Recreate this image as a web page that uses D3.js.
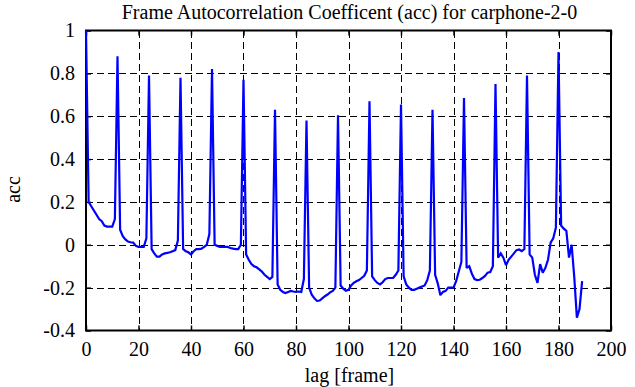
<!DOCTYPE html>
<html>
<head>
<meta charset="utf-8">
<script src="https://cdn.jsdelivr.net/npm/d3@7/dist/d3.min.js"></script>
<style>
  body { margin: 0; background: #fff; }
  text { font-family: "Liberation Serif", "Times New Roman", serif; fill: #000; }
</style>
</head>
<body>
<svg id="chart" width="635" height="387"></svg>
<script>
// ---- data ----
const title = "Frame Autocorrelation Coefficent (acc) for carphone-2-0";
const xLabel = "lag [frame]";
const yLabel = "acc";
const xTicks = [0, 20, 40, 60, 80, 100, 120, 140, 160, 180, 200];
const yTicks = [-0.4, -0.2, 0, 0.2, 0.4, 0.6, 0.8, 1];
const xTickLabels = ["0", "20", "40", "60", "80", "100", "120", "140", "160", "180", "200"];
const yTickLabels = ["-0.4", "-0.2", "0", "0.2", "0.4", "0.6", "0.8", "1"];

// acc value for lag 0, 1, 2, ... (index = lag in frames)
const acc = [
  1.0, 0.20, 0.18, 0.16, 0.14, 0.12, 0.11, 0.09, 0.085, 0.085,
  0.085, 0.12, 0.88, 0.07, 0.04, 0.025, 0.015, 0.012, 0.01, -0.005,
  -0.01, -0.01, -0.01, 0.03, 0.79, -0.02, -0.04, -0.055, -0.055, -0.045,
  -0.04, -0.038, -0.035, -0.03, -0.025, 0.02, 0.78, -0.02, -0.03, -0.035,
  -0.045, -0.03, -0.02, -0.02, -0.018, -0.01, 0.0, 0.05, 0.82, 0.0,
  -0.005, -0.01, -0.01, -0.01, -0.01, -0.015, -0.018, -0.02, -0.02, 0.0,
  0.77, -0.045, -0.07, -0.09, -0.1, -0.105, -0.115, -0.125, -0.14, -0.15,
  -0.16, -0.15, 0.63, -0.185, -0.21, -0.22, -0.225, -0.22, -0.215, -0.218,
  -0.22, -0.218, -0.22, -0.16, 0.58, -0.2, -0.233, -0.25, -0.262, -0.26,
  -0.25, -0.24, -0.232, -0.222, -0.215, -0.2, 0.605, -0.19, -0.205, -0.215,
  -0.21, -0.19, -0.178, -0.17, -0.165, -0.155, -0.145, -0.12, 0.67, -0.147,
  -0.165, -0.178, -0.185, -0.175, -0.16, -0.155, -0.155, -0.155, -0.14, -0.12,
  0.655, -0.147, -0.185, -0.2, -0.21, -0.21, -0.205, -0.2, -0.195, -0.19,
  -0.165, -0.12, 0.63, -0.14, -0.18, -0.235, -0.22, -0.215, -0.2, -0.2,
  -0.2, -0.17, -0.125, -0.08, 0.685, -0.108, -0.1, -0.135, -0.16, -0.165,
  -0.163, -0.155, -0.145, -0.13, -0.127, -0.1, 0.75, -0.06, -0.04, -0.06,
  -0.095, -0.07, -0.055, -0.04, -0.025, -0.022, -0.03, -0.02, 0.79, -0.045,
  -0.06, -0.14, -0.178, -0.09, -0.13, -0.108, -0.07, 0.01, 0.03, 0.08,
  0.90, 0.09, 0.075, 0.065, -0.06, 0.0, -0.15, -0.34, -0.3, -0.17
];

// ---- layout ----
const L = 86, R = 611, T = 30.5, B = 330.5;
const FS = 20;

const svg = d3.select("#chart");
const x = d3.scaleLinear().domain([0, 200]).range([L, R]);
const y = d3.scaleLinear().domain([-0.4, 1]).range([B, T]);

// grid lines (dashed)
const grid = svg.append("g").attr("stroke", "#000").attr("stroke-width", 1)
  .attr("stroke-dasharray", "7,4").attr("shape-rendering", "crispEdges");
grid.selectAll("line.gx").data(xTicks.slice(1, -1)).join("line")
  .attr("x1", d => Math.round(x(d)) + 0.5).attr("x2", d => Math.round(x(d)) + 0.5)
  .attr("y1", T).attr("y2", B);
grid.selectAll("line.gy").data(yTicks.slice(1, -1)).join("line")
  .attr("y1", d => Math.round(y(d)) + 0.5).attr("y2", d => Math.round(y(d)) + 0.5)
  .attr("x1", L).attr("x2", R);

// axes with inward ticks on all four sides
const tickLen = 5;
const axB = d3.axisBottom(x).tickValues(xTicks).tickSize(-tickLen).tickFormat((d, i) => xTickLabels[i]).tickPadding(11);
const axT = d3.axisTop(x).tickValues(xTicks).tickSize(-tickLen).tickFormat("");
const axLft = d3.axisLeft(y).tickValues(yTicks).tickSize(-tickLen).tickFormat((d, i) => yTickLabels[i]).tickPadding(11);
const axRt = d3.axisRight(y).tickValues(yTicks).tickSize(-tickLen).tickFormat("");

function styleAxis(g) {
  g.attr("font-family", null).attr("font-size", null);
  g.select(".domain").remove();
  g.selectAll(".tick line").attr("stroke", "#000").attr("stroke-width", 1.5);
  g.selectAll(".tick text").style("font-family", "'Liberation Serif', serif").style("font-size", FS + "px").attr("fill", "#000");
}
svg.append("g").attr("transform", `translate(0,${B})`).call(axB).call(styleAxis);
svg.append("g").attr("transform", `translate(0,${T})`).call(axT).call(styleAxis);
svg.append("g").attr("transform", `translate(${L},0)`).call(axLft).call(styleAxis);
svg.append("g").attr("transform", `translate(${R},0)`).call(axRt).call(styleAxis);

// frame
svg.append("rect").attr("x", L).attr("y", T).attr("width", R - L).attr("height", B - T)
  .attr("fill", "none").attr("stroke", "#000").attr("stroke-width", 2);

// data line (drawn on top of the frame, as in the reference)
const line = d3.line().x((d, i) => x(i)).y(d => y(d));
svg.append("path").datum(acc)
  .attr("d", line)
  .attr("fill", "none")
  .attr("stroke", "#0000ff")
  .attr("stroke-width", 2.2)
  .attr("stroke-linejoin", "miter")
  .attr("stroke-miterlimit", 2);

// titles
svg.append("text").attr("x", (L + R) / 2 + 1).attr("y", 19).attr("text-anchor", "middle")
  .style("font-size", FS + "px").text(title);
svg.append("text").attr("x", (L + R) / 2 + 1).attr("y", 382).attr("text-anchor", "middle")
  .style("font-size", FS + "px").text(xLabel);
svg.append("text").attr("transform", `translate(20,${(T + B) / 2 + 9}) rotate(-90)`)
  .attr("text-anchor", "middle").style("font-size", FS + "px").text(yLabel);
</script>
</body>
</html>
